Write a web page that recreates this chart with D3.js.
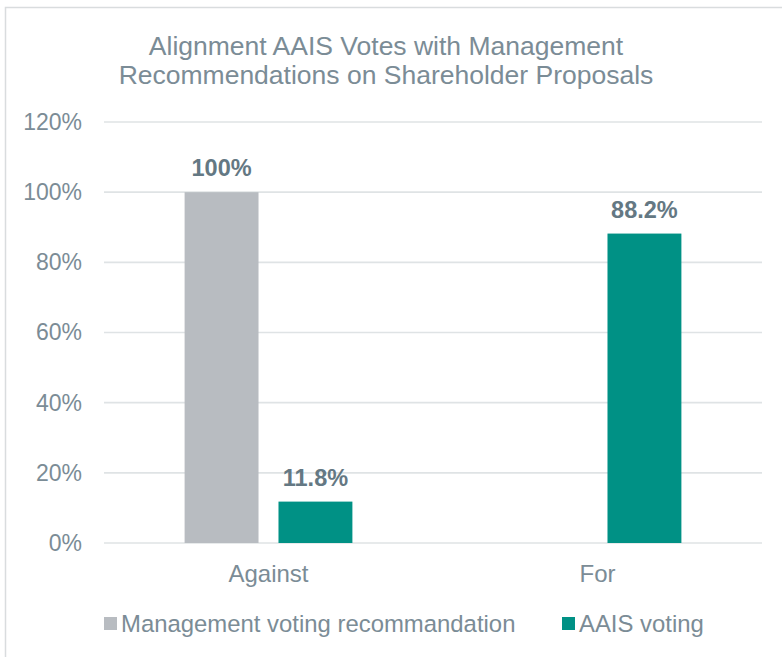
<!DOCTYPE html>
<html>
<head>
    <meta charset="UTF-8">
    <title>Alignment AAIS Votes</title>
    <script src="https://d3js.org/d3.v7.min.js"></script>
    <style>
        body {
            margin: 0;
            padding: 0;
            background: #ffffff;
        }
        text {
            font-family: "Liberation Sans", Arial, sans-serif;
            fill: #7b8c96;
        }
    </style>
</head>
<body>
    <div id="chart"></div>
    <script>
        var categories = ["Against", "For"];
        var seriesNames = ["Management voting recommandation", "AAIS voting"];
        var managementValues = [100, 0];
        var aaisValues = [11.8, 88.2];
        var valueLabels = [["100%", null], ["11.8%", "88.2%"]];
        var yTicks = [0, 20, 40, 60, 80, 100, 120];
        var colors = ["#b8bcc1", "#009185"];

        var W = 782, H = 657;
        var margin = {top: 122, right: 20, bottom: 114, left: 104};
        var width = 762 - margin.left,
            height = 543 - margin.top;

        var svg = d3.select("#chart").append("svg")
            .attr("width", W)
            .attr("height", H);

        // outer frame (right/bottom edges fall outside the picture)
        svg.append("rect")
            .attr("x", 5.5).attr("y", 7.5)
            .attr("width", 900).attr("height", 900)
            .attr("fill", "none")
            .attr("stroke", "#d9dcde")
            .attr("stroke-width", 1.5);

        var title = svg.append("text")
            .attr("x", 386)
            .attr("text-anchor", "middle")
            .style("font-size", "26.5px");
        title.append("tspan").attr("x", 386).attr("y", 55).text("Alignment AAIS Votes with Management");
        title.append("tspan").attr("x", 386).attr("y", 84).text("Recommendations on Shareholder Proposals");

        var g = svg.append("g")
            .attr("transform", "translate(" + margin.left + "," + margin.top + ")");

        var x0 = d3.scaleBand().domain(categories).range([0, width])
            .paddingInner(0.49).paddingOuter(0.245);
        var x1 = d3.scaleBand().domain([0, 1]).range([0, x0.bandwidth()])
            .paddingInner(0.2128);
        var y = d3.scaleLinear().domain([0, 120]).range([height, 0]);

        // gridlines
        g.selectAll(".grid")
            .data(yTicks)
            .enter().append("line")
            .attr("x1", 0).attr("x2", width)
            .attr("y1", function(d) { return y(d); })
            .attr("y2", function(d) { return y(d); })
            .attr("stroke", "#dfe3e5")
            .attr("stroke-width", 1.6);

        // y axis labels
        var yAxis = d3.axisLeft(y).tickValues(yTicks)
            .tickFormat(function(d) { return d + "%"; })
            .tickSize(0).tickPadding(22);
        g.append("g").call(yAxis)
            .call(function(s) { s.select(".domain").remove(); })
            .selectAll("text")
            .style("font-size", "23px")
            .attr("fill", "#7b8c96");

        // x axis labels
        var xAxis = d3.axisBottom(x0).tickSize(0).tickPadding(22);
        g.append("g").attr("transform", "translate(0," + height + ")")
            .call(xAxis)
            .call(function(s) { s.select(".domain").remove(); })
            .selectAll("text")
            .style("font-size", "24px")
            .attr("fill", "#7b8c96");

        var rows = categories.map(function(c, i) {
            return {cat: c, vals: [managementValues[i], aaisValues[i]], idx: i};
        });

        var groups = g.selectAll(".grp")
            .data(rows)
            .enter().append("g")
            .attr("transform", function(d) { return "translate(" + x0(d.cat) + ",0)"; });

        groups.selectAll("rect")
            .data(function(d) { return d.vals.map(function(v, s) { return {v: v, s: s}; }); })
            .enter().append("rect")
            .attr("x", function(d) { return x1(d.s); })
            .attr("width", x1.bandwidth())
            .attr("y", function(d) { return y(d.v); })
            .attr("height", function(d) { return height - y(d.v); })
            .attr("fill", function(d) { return colors[d.s]; });

        groups.selectAll(".lbl")
            .data(function(d) {
                return d.vals.map(function(v, s) { return {v: v, s: s, t: valueLabels[s][d.idx]}; })
                    .filter(function(e) { return e.t; });
            })
            .enter().append("text")
            .attr("x", function(d) { return x1(d.s) + x1.bandwidth() / 2; })
            .attr("y", function(d) { return y(d.v) - 16; })
            .attr("text-anchor", "middle")
            .style("font-size", "23.5px")
            .style("font-weight", "bold")
            .style("fill", "#647883")
            .text(function(d) { return d.t; });

        // legend
        var legendX = [104, 562];
        var legend = svg.selectAll(".leg")
            .data(seriesNames)
            .enter().append("g")
            .attr("transform", function(d, i) { return "translate(" + legendX[i] + ",617)"; });
        legend.append("rect")
            .attr("width", 13).attr("height", 13)
            .attr("fill", function(d, i) { return colors[i]; });
        legend.append("text")
            .attr("x", 17).attr("y", 14.5)
            .style("font-size", "23.9px")
            .text(function(d) { return d; });
    </script>
</body>
</html>
